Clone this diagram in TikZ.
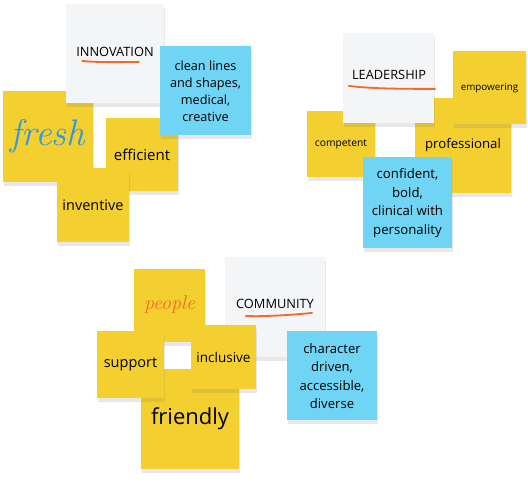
\documentclass[tikz,border=0pt]{standalone}
\usepackage{fontspec}
\usepackage{xcolor}
\usetikzlibrary{shadows}
\newfontfamily\notefont{Open Sans}
\definecolor{noteyellow}{HTML}{F3CF2F}
\definecolor{noteblue}{HTML}{70D4F5}
\definecolor{notewhite}{HTML}{F4F5F7}
\definecolor{penorange}{HTML}{F2692A}
\definecolor{penblue}{HTML}{2E98E4}
\begin{document}
\begin{tikzpicture}[x=1pt,y=-1pt,every text node part/.style={align=center},
  note/.style={rectangle,inner sep=0pt,font=\notefont,text=black,
    drop shadow={opacity=0.18,shadow xshift=1pt,shadow yshift=-4pt}},
  yellownote/.style={note,fill=noteyellow},
  bluenote/.style={note,fill=noteblue},
  whitenote/.style={note,fill=notewhite},
  heading/.style={inner sep=0pt,font=\notefont\fontsize{12.8}{15}\selectfont,text=black},
  underline/.style={penorange,line width=1.8pt,line cap=round}]
\useasboundingbox (0,0) rectangle (528,486);
% innovation
\node [yellownote,minimum width=90,minimum height=91,text=penblue,font=\rmfamily\itshape\fontsize{37}{37}\selectfont] (fresh) at (48,136.5) {\raisebox{4pt}{fresh}};
\node [whitenote,minimum width=98,minimum height=99] (innovation) at (115,53.5) {};
\node [heading] (innovationtitle) at (115,52) {INNOVATION};
\draw [underline] ([xshift=6pt,yshift=-4pt]innovationtitle.south west) .. controls ([xshift=22pt,yshift=-6pt]innovationtitle.south west) and ([xshift=-22pt,yshift=-5pt]innovationtitle.south east) .. ([xshift=-15pt,yshift=-5pt]innovationtitle.south east);
\node [yellownote,minimum width=72,minimum height=73,font=\notefont\fontsize{15}{18}\selectfont] (efficient) at (142,154.5) {efficient};
\node [bluenote,minimum width=91,minimum height=89,font=\notefont\fontsize{12.7}{17}\selectfont] (cleanlines) at (205.5,91) {clean lines\\and shapes,\\medical,\\creative};
\node [yellownote,minimum width=72,minimum height=74,font=\notefont\fontsize{14.5}{17}\selectfont] (inventive) at (93,205) {inventive};
% leadership
\node [yellownote,minimum width=68,minimum height=66,font=\notefont\fontsize{10.3}{12}\selectfont] (competent) at (341,144) {competent};
\node [yellownote,minimum width=96,minimum height=95,font=\notefont\fontsize{13.2}{16}\selectfont] (professional) at (463,145.5) {professional};
\node [whitenote,minimum width=91,minimum height=90] (leadership) at (388.5,78) {};
\node [heading] (leadershiptitle) at (389,75) {LEADERSHIP};
\draw [underline] ([xshift=-3pt,yshift=-6pt]leadershiptitle.south west) .. controls ([xshift=20pt,yshift=-9pt]leadershiptitle.south west) and ([xshift=-20pt,yshift=-9pt]leadershiptitle.south east) .. ([xshift=9pt,yshift=-9pt]leadershiptitle.south east);
\node [yellownote,minimum width=73,minimum height=73,font=\notefont\fontsize{9.8}{12}\selectfont] (empowering) at (489.5,88) {empowering};
\node [bluenote,minimum width=89,minimum height=91,font=\notefont\fontsize{13.2}{18.5}\selectfont] (confident) at (407.5,203) {confident,\\bold,\\clinical with\\personality};
% community
\node [whitenote,minimum width=100,minimum height=100] (community) at (275,307) {};
\node [heading] (communitytitle) at (275,304) {COMMUNITY};
\draw [underline] ([xshift=10pt,yshift=-7pt]communitytitle.south west) .. controls ([xshift=25pt,yshift=-8pt]communitytitle.south west) and ([xshift=-20pt,yshift=-6pt]communitytitle.south east) .. ([xshift=-2pt,yshift=-4pt]communitytitle.south east);
\node [yellownote,minimum width=71,minimum height=73,text=penorange,font=\rmfamily\itshape\fontsize{20}{20}\selectfont] (people) at (169.5,305.5) {\raisebox{6pt}{people}};
\node [yellownote,minimum width=98,minimum height=100,font=\notefont\fontsize{22}{26}\selectfont] (friendly) at (190,419) {friendly};
\node [yellownote,minimum width=67,minimum height=67,font=\notefont\fontsize{14.5}{17}\selectfont] (support) at (130.5,364.5) {support};
\node [yellownote,minimum width=65,minimum height=64,font=\notefont\fontsize{13.5}{16}\selectfont] (inclusive) at (223.5,357) {inclusive};
\node [bluenote,minimum width=90,minimum height=89,font=\notefont\fontsize{13.1}{18.5}\selectfont] (character) at (332,376) {character\\driven,\\accessible,\\diverse};
\end{tikzpicture}
\end{document}
